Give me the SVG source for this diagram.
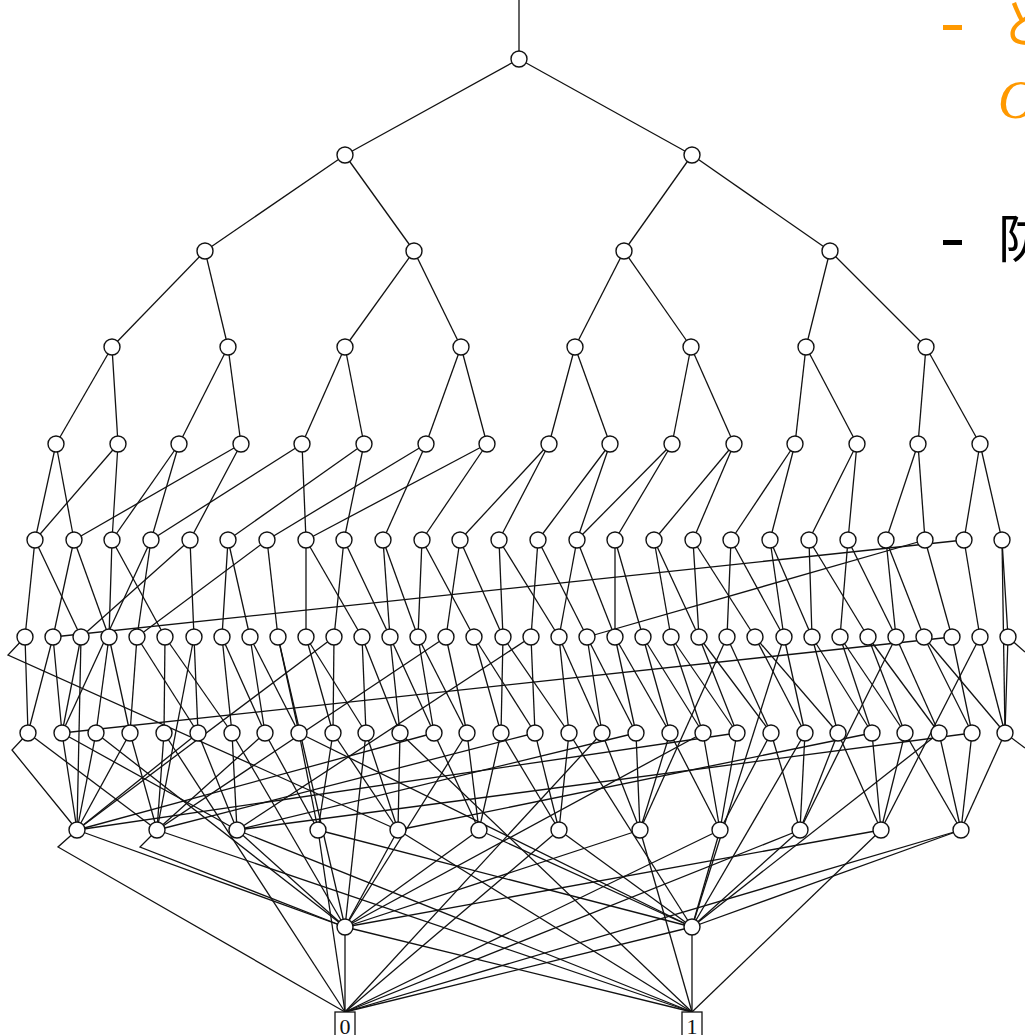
<svg xmlns="http://www.w3.org/2000/svg" width="1025" height="1035" viewBox="0 0 1025 1035">
<style>
.e path{fill:none;stroke:#111;stroke-width:1.3}
.n circle{fill:#fff;stroke:#111;stroke-width:1.4}
.t rect{fill:#fff;stroke:#111;stroke-width:1.3}
.t text{font-family:"Liberation Serif",serif;font-size:22px;text-anchor:middle;fill:#111}
.o{fill:#f90;font-family:"Noto Sans CJK JP","Noto Sans",sans-serif;font-size:52px}
.k{fill:#000;font-family:"Noto Sans CJK JP","Noto Sans",sans-serif;font-size:52px}
</style>
<rect width="1025" height="1035" fill="#fff"/>
<g id="text">
<rect x="943" y="25" width="19" height="5" fill="#f90"/>
<text class="o" x="1000" y="43">と</text>
<text x="998" y="118" fill="#f90" font-family="Liberation Serif,serif" font-style="italic" font-size="54">O</text>
<rect x="943" y="240" width="19" height="5" fill="#000"/>
<text class="k" x="998" y="258">防</text>
</g>
<g class="e" id="connectors">
<path d="M519 0L519 59"/>
<path d="M519 59L345 155"/><path d="M519 59L692 155"/>
<path d="M345 155L205 251"/><path d="M345 155L414 251"/><path d="M692 155L624 251"/><path d="M692 155L830 251"/>
<path d="M205 251L112 347"/><path d="M205 251L228 347"/><path d="M414 251L345 347"/><path d="M414 251L461 347"/>
<path d="M624 251L575 347"/><path d="M624 251L691 347"/><path d="M830 251L806 347"/><path d="M830 251L926 347"/>
<path d="M112 347L56 444"/><path d="M112 347L118 444"/><path d="M228 347L179 444"/><path d="M228 347L241 444"/>
<path d="M345 347L302 444"/><path d="M345 347L364 444"/><path d="M461 347L426 444"/><path d="M461 347L487 444"/>
<path d="M575 347L549 444"/><path d="M575 347L610 444"/><path d="M691 347L672 444"/><path d="M691 347L734 444"/>
<path d="M806 347L795 444"/><path d="M806 347L857 444"/><path d="M926 347L918 444"/><path d="M926 347L980 444"/>
<path d="M56 444L74 540"/><path d="M56 444L35 540"/><path d="M118 444L35 540"/><path d="M118 444L112 540"/>
<path d="M179 444L112 540"/><path d="M179 444L151 540"/><path d="M241 444L74 540"/><path d="M241 444L190 540"/>
<path d="M302 444L151 540"/><path d="M302 444L306 540"/><path d="M364 444L228 540"/><path d="M364 444L344 540"/>
<path d="M426 444L267 540"/><path d="M426 444L383 540"/><path d="M487 444L306 540"/><path d="M487 444L422 540"/>
<path d="M549 444L460 540"/><path d="M549 444L499 540"/><path d="M610 444L538 540"/><path d="M610 444L577 540"/>
<path d="M672 444L577 540"/><path d="M672 444L615 540"/><path d="M734 444L654 540"/><path d="M734 444L693 540"/>
<path d="M795 444L731 540"/><path d="M795 444L770 540"/><path d="M857 444L809 540"/><path d="M857 444L848 540"/>
<path d="M918 444L886 540"/><path d="M918 444L925 540"/><path d="M980 444L964 540"/><path d="M980 444L1002 540"/>
<path d="M35 540L25 637"/><path d="M35 540L81 637"/><path d="M74 540L53 637"/><path d="M74 540L109 637"/>
<path d="M112 540L109 637"/><path d="M112 540L165 637"/><path d="M151 540L137 637"/><path d="M151 540L62 733"/>
<path d="M190 540L194 637"/><path d="M190 540L81 637"/><path d="M228 540L222 637"/><path d="M228 540L250 637"/>
<path d="M267 540L278 637"/><path d="M267 540L137 637"/><path d="M306 540L306 637"/><path d="M306 540L362 637"/>
<path d="M344 540L334 637"/><path d="M344 540L390 637"/><path d="M383 540L390 637"/><path d="M383 540L418 637"/>
<path d="M422 540L418 637"/><path d="M422 540L474 637"/><path d="M460 540L446 637"/><path d="M460 540L503 637"/>
<path d="M499 540L503 637"/><path d="M499 540L559 637"/><path d="M538 540L531 637"/><path d="M538 540L587 637"/>
<path d="M577 540L559 637"/><path d="M577 540L615 637"/><path d="M615 540L615 637"/><path d="M615 540L643 637"/>
<path d="M654 540L671 637"/><path d="M654 540L699 637"/><path d="M693 540L699 637"/><path d="M693 540L755 637"/>
<path d="M731 540L727 637"/><path d="M731 540L784 637"/><path d="M770 540L784 637"/><path d="M770 540L812 637"/>
<path d="M809 540L812 637"/><path d="M809 540L868 637"/><path d="M848 540L840 637"/><path d="M848 540L896 637"/>
<path d="M886 540L896 637"/><path d="M886 540L924 637"/><path d="M925 540L952 637"/><path d="M925 540L587 637"/>
<path d="M964 540L980 637"/><path d="M964 540L53 637"/><path d="M1002 540L1008 637"/><path d="M1002 540L1005 733"/>
<path d="M25 637L8 655L398 830"/><path d="M25 637L28 733"/><path d="M53 637L28 733"/><path d="M53 637L62 733"/>
<path d="M81 637L62 733"/><path d="M81 637L77 830"/><path d="M109 637L96 733"/><path d="M109 637L130 733"/>
<path d="M137 637L130 733"/><path d="M137 637L198 733"/><path d="M165 637L164 733"/><path d="M165 637L232 733"/>
<path d="M194 637L198 733"/><path d="M194 637L157 830"/><path d="M222 637L232 733"/><path d="M222 637L265 733"/>
<path d="M250 637L265 733"/><path d="M250 637L299 733"/><path d="M278 637L299 733"/><path d="M278 637L345 927"/>
<path d="M306 637L333 733"/><path d="M306 637L366 733"/><path d="M334 637L333 733"/><path d="M334 637L77 830"/>
<path d="M362 637L366 733"/><path d="M362 637L400 733"/><path d="M390 637L400 733"/><path d="M390 637L434 733"/>
<path d="M418 637L434 733"/><path d="M418 637L467 733"/><path d="M446 637L467 733"/><path d="M446 637L157 830"/>
<path d="M474 637L501 733"/><path d="M474 637L535 733"/><path d="M503 637L501 733"/><path d="M503 637L569 733"/>
<path d="M531 637L535 733"/><path d="M531 637L237 830"/><path d="M559 637L569 733"/><path d="M559 637L602 733"/>
<path d="M587 637L602 733"/><path d="M587 637L636 733"/><path d="M615 637L636 733"/><path d="M615 637L670 733"/>
<path d="M643 637L670 733"/><path d="M643 637L703 733"/><path d="M671 637L703 733"/><path d="M671 637L737 733"/>
<path d="M699 637L737 733"/><path d="M699 637L771 733"/><path d="M727 637L771 733"/><path d="M727 637L640 830"/>
<path d="M755 637L805 733"/><path d="M755 637L838 733"/><path d="M784 637L805 733"/><path d="M784 637L692 927"/>
<path d="M812 637L838 733"/><path d="M812 637L872 733"/><path d="M840 637L872 733"/><path d="M840 637L905 733"/>
<path d="M868 637L905 733"/><path d="M868 637L939 733"/><path d="M896 637L939 733"/><path d="M896 637L800 830"/>
<path d="M924 637L972 733"/><path d="M924 637L1005 733"/><path d="M952 637L972 733"/><path d="M952 637L62 733"/>
<path d="M980 637L1005 733"/><path d="M980 637L881 830"/><path d="M1008 637L1005 733"/><path d="M1008 637L1025 652"/>
<path d="M28 733L12 750L77 830"/><path d="M28 733L157 830"/><path d="M62 733L77 830"/><path d="M62 733L237 830"/>
<path d="M96 733L77 830"/><path d="M96 733L345 927"/><path d="M130 733L157 830"/><path d="M130 733L77 830"/>
<path d="M164 733L157 830"/><path d="M164 733L345 1012"/><path d="M198 733L237 830"/><path d="M198 733L77 830"/>
<path d="M232 733L237 830"/><path d="M232 733L345 927"/><path d="M265 733L318 830"/><path d="M265 733L157 830"/>
<path d="M299 733L318 830"/><path d="M299 733L692 927"/><path d="M333 733L318 830"/><path d="M333 733L398 830"/>
<path d="M366 733L398 830"/><path d="M366 733L345 927"/><path d="M400 733L398 830"/><path d="M400 733L692 1012"/>
<path d="M434 733L479 830"/><path d="M434 733L77 830"/><path d="M467 733L479 830"/><path d="M467 733L345 927"/>
<path d="M501 733L479 830"/><path d="M501 733L559 830"/><path d="M535 733L559 830"/><path d="M535 733L157 830"/>
<path d="M569 733L559 830"/><path d="M569 733L692 927"/><path d="M602 733L640 830"/><path d="M602 733L345 1012"/>
<path d="M636 733L640 830"/><path d="M636 733L237 830"/><path d="M670 733L640 830"/><path d="M670 733L720 830"/>
<path d="M703 733L720 830"/><path d="M703 733L345 927"/><path d="M737 733L720 830"/><path d="M737 733L77 830"/>
<path d="M771 733L800 830"/><path d="M771 733L720 830"/><path d="M805 733L800 830"/><path d="M805 733L692 927"/>
<path d="M838 733L800 830"/><path d="M838 733L881 830"/><path d="M872 733L881 830"/><path d="M872 733L398 830"/>
<path d="M905 733L881 830"/><path d="M905 733L961 830"/><path d="M939 733L961 830"/><path d="M939 733L692 927"/>
<path d="M972 733L961 830"/><path d="M972 733L237 830"/><path d="M1005 733L961 830"/><path d="M1005 733L1025 748"/>
<path d="M77 830L58 847L345 1012"/><path d="M77 830L345 927"/><path d="M157 830L140 847L345 927"/><path d="M157 830L692 1012"/>
<path d="M237 830L345 927"/><path d="M237 830L692 1012"/><path d="M318 830L692 927"/><path d="M318 830L345 1012"/>
<path d="M398 830L345 927"/><path d="M398 830L692 1012"/><path d="M479 830L345 927"/><path d="M479 830L692 927"/>
<path d="M559 830L345 1012"/><path d="M559 830L692 927"/><path d="M640 830L345 927"/><path d="M640 830L692 1012"/>
<path d="M720 830L692 927"/><path d="M720 830L345 1012"/><path d="M800 830L692 927"/><path d="M800 830L345 1012"/>
<path d="M881 830L345 927"/><path d="M881 830L692 1012"/><path d="M961 830L692 927"/><path d="M961 830L345 1012"/>
<path d="M345 927L345 1012"/><path d="M345 927L692 1012"/><path d="M692 927L692 1012"/><path d="M692 927L345 1012"/>
</g>
<g class="n" id="nodes">
<g id="r0_0"><circle cx="519" cy="59" r="8"/></g>
<g id="r1_0"><circle cx="345" cy="155" r="8"/></g><g id="r1_1"><circle cx="692" cy="155" r="8"/></g>
<g id="r2_0"><circle cx="205" cy="251" r="8"/></g><g id="r2_1"><circle cx="414" cy="251" r="8"/></g><g id="r2_2"><circle cx="624" cy="251" r="8"/></g><g id="r2_3"><circle cx="830" cy="251" r="8"/></g>
<g id="r3_0"><circle cx="112" cy="347" r="8"/></g><g id="r3_1"><circle cx="228" cy="347" r="8"/></g><g id="r3_2"><circle cx="345" cy="347" r="8"/></g><g id="r3_3"><circle cx="461" cy="347" r="8"/></g>
<g id="r3_4"><circle cx="575" cy="347" r="8"/></g><g id="r3_5"><circle cx="691" cy="347" r="8"/></g><g id="r3_6"><circle cx="806" cy="347" r="8"/></g><g id="r3_7"><circle cx="926" cy="347" r="8"/></g>
<g id="r4_0"><circle cx="56" cy="444" r="8"/></g><g id="r4_1"><circle cx="118" cy="444" r="8"/></g><g id="r4_2"><circle cx="179" cy="444" r="8"/></g><g id="r4_3"><circle cx="241" cy="444" r="8"/></g>
<g id="r4_4"><circle cx="302" cy="444" r="8"/></g><g id="r4_5"><circle cx="364" cy="444" r="8"/></g><g id="r4_6"><circle cx="426" cy="444" r="8"/></g><g id="r4_7"><circle cx="487" cy="444" r="8"/></g>
<g id="r4_8"><circle cx="549" cy="444" r="8"/></g><g id="r4_9"><circle cx="610" cy="444" r="8"/></g><g id="r4_10"><circle cx="672" cy="444" r="8"/></g><g id="r4_11"><circle cx="734" cy="444" r="8"/></g>
<g id="r4_12"><circle cx="795" cy="444" r="8"/></g><g id="r4_13"><circle cx="857" cy="444" r="8"/></g><g id="r4_14"><circle cx="918" cy="444" r="8"/></g><g id="r4_15"><circle cx="980" cy="444" r="8"/></g>
<g id="r5_0"><circle cx="35" cy="540" r="8"/></g><g id="r5_1"><circle cx="74" cy="540" r="8"/></g><g id="r5_2"><circle cx="112" cy="540" r="8"/></g><g id="r5_3"><circle cx="151" cy="540" r="8"/></g>
<g id="r5_4"><circle cx="190" cy="540" r="8"/></g><g id="r5_5"><circle cx="228" cy="540" r="8"/></g><g id="r5_6"><circle cx="267" cy="540" r="8"/></g><g id="r5_7"><circle cx="306" cy="540" r="8"/></g>
<g id="r5_8"><circle cx="344" cy="540" r="8"/></g><g id="r5_9"><circle cx="383" cy="540" r="8"/></g><g id="r5_10"><circle cx="422" cy="540" r="8"/></g><g id="r5_11"><circle cx="460" cy="540" r="8"/></g>
<g id="r5_12"><circle cx="499" cy="540" r="8"/></g><g id="r5_13"><circle cx="538" cy="540" r="8"/></g><g id="r5_14"><circle cx="577" cy="540" r="8"/></g><g id="r5_15"><circle cx="615" cy="540" r="8"/></g>
<g id="r5_16"><circle cx="654" cy="540" r="8"/></g><g id="r5_17"><circle cx="693" cy="540" r="8"/></g><g id="r5_18"><circle cx="731" cy="540" r="8"/></g><g id="r5_19"><circle cx="770" cy="540" r="8"/></g>
<g id="r5_20"><circle cx="809" cy="540" r="8"/></g><g id="r5_21"><circle cx="848" cy="540" r="8"/></g><g id="r5_22"><circle cx="886" cy="540" r="8"/></g><g id="r5_23"><circle cx="925" cy="540" r="8"/></g>
<g id="r5_24"><circle cx="964" cy="540" r="8"/></g><g id="r5_25"><circle cx="1002" cy="540" r="8"/></g>
<g id="r6_0"><circle cx="25" cy="637" r="8"/></g><g id="r6_1"><circle cx="53" cy="637" r="8"/></g><g id="r6_2"><circle cx="81" cy="637" r="8"/></g><g id="r6_3"><circle cx="109" cy="637" r="8"/></g>
<g id="r6_4"><circle cx="137" cy="637" r="8"/></g><g id="r6_5"><circle cx="165" cy="637" r="8"/></g><g id="r6_6"><circle cx="194" cy="637" r="8"/></g><g id="r6_7"><circle cx="222" cy="637" r="8"/></g>
<g id="r6_8"><circle cx="250" cy="637" r="8"/></g><g id="r6_9"><circle cx="278" cy="637" r="8"/></g><g id="r6_10"><circle cx="306" cy="637" r="8"/></g><g id="r6_11"><circle cx="334" cy="637" r="8"/></g>
<g id="r6_12"><circle cx="362" cy="637" r="8"/></g><g id="r6_13"><circle cx="390" cy="637" r="8"/></g><g id="r6_14"><circle cx="418" cy="637" r="8"/></g><g id="r6_15"><circle cx="446" cy="637" r="8"/></g>
<g id="r6_16"><circle cx="474" cy="637" r="8"/></g><g id="r6_17"><circle cx="503" cy="637" r="8"/></g><g id="r6_18"><circle cx="531" cy="637" r="8"/></g><g id="r6_19"><circle cx="559" cy="637" r="8"/></g>
<g id="r6_20"><circle cx="587" cy="637" r="8"/></g><g id="r6_21"><circle cx="615" cy="637" r="8"/></g><g id="r6_22"><circle cx="643" cy="637" r="8"/></g><g id="r6_23"><circle cx="671" cy="637" r="8"/></g>
<g id="r6_24"><circle cx="699" cy="637" r="8"/></g><g id="r6_25"><circle cx="727" cy="637" r="8"/></g><g id="r6_26"><circle cx="755" cy="637" r="8"/></g><g id="r6_27"><circle cx="784" cy="637" r="8"/></g>
<g id="r6_28"><circle cx="812" cy="637" r="8"/></g><g id="r6_29"><circle cx="840" cy="637" r="8"/></g><g id="r6_30"><circle cx="868" cy="637" r="8"/></g><g id="r6_31"><circle cx="896" cy="637" r="8"/></g>
<g id="r6_32"><circle cx="924" cy="637" r="8"/></g><g id="r6_33"><circle cx="952" cy="637" r="8"/></g><g id="r6_34"><circle cx="980" cy="637" r="8"/></g><g id="r6_35"><circle cx="1008" cy="637" r="8"/></g>
<g id="r7_0"><circle cx="28" cy="733" r="8"/></g><g id="r7_1"><circle cx="62" cy="733" r="8"/></g><g id="r7_2"><circle cx="96" cy="733" r="8"/></g><g id="r7_3"><circle cx="130" cy="733" r="8"/></g>
<g id="r7_4"><circle cx="164" cy="733" r="8"/></g><g id="r7_5"><circle cx="198" cy="733" r="8"/></g><g id="r7_6"><circle cx="232" cy="733" r="8"/></g><g id="r7_7"><circle cx="265" cy="733" r="8"/></g>
<g id="r7_8"><circle cx="299" cy="733" r="8"/></g><g id="r7_9"><circle cx="333" cy="733" r="8"/></g><g id="r7_10"><circle cx="366" cy="733" r="8"/></g><g id="r7_11"><circle cx="400" cy="733" r="8"/></g>
<g id="r7_12"><circle cx="434" cy="733" r="8"/></g><g id="r7_13"><circle cx="467" cy="733" r="8"/></g><g id="r7_14"><circle cx="501" cy="733" r="8"/></g><g id="r7_15"><circle cx="535" cy="733" r="8"/></g>
<g id="r7_16"><circle cx="569" cy="733" r="8"/></g><g id="r7_17"><circle cx="602" cy="733" r="8"/></g><g id="r7_18"><circle cx="636" cy="733" r="8"/></g><g id="r7_19"><circle cx="670" cy="733" r="8"/></g>
<g id="r7_20"><circle cx="703" cy="733" r="8"/></g><g id="r7_21"><circle cx="737" cy="733" r="8"/></g><g id="r7_22"><circle cx="771" cy="733" r="8"/></g><g id="r7_23"><circle cx="805" cy="733" r="8"/></g>
<g id="r7_24"><circle cx="838" cy="733" r="8"/></g><g id="r7_25"><circle cx="872" cy="733" r="8"/></g><g id="r7_26"><circle cx="905" cy="733" r="8"/></g><g id="r7_27"><circle cx="939" cy="733" r="8"/></g>
<g id="r7_28"><circle cx="972" cy="733" r="8"/></g><g id="r7_29"><circle cx="1005" cy="733" r="8"/></g>
<g id="r8_0"><circle cx="77" cy="830" r="8"/></g><g id="r8_1"><circle cx="157" cy="830" r="8"/></g><g id="r8_2"><circle cx="237" cy="830" r="8"/></g><g id="r8_3"><circle cx="318" cy="830" r="8"/></g>
<g id="r8_4"><circle cx="398" cy="830" r="8"/></g><g id="r8_5"><circle cx="479" cy="830" r="8"/></g><g id="r8_6"><circle cx="559" cy="830" r="8"/></g><g id="r8_7"><circle cx="640" cy="830" r="8"/></g>
<g id="r8_8"><circle cx="720" cy="830" r="8"/></g><g id="r8_9"><circle cx="800" cy="830" r="8"/></g><g id="r8_10"><circle cx="881" cy="830" r="8"/></g><g id="r8_11"><circle cx="961" cy="830" r="8"/></g>
<g id="r9_0"><circle cx="345" cy="927" r="8"/></g><g id="r9_1"><circle cx="692" cy="927" r="8"/></g>
</g>
<g class="t" id="terminals">
<g id="term0"><rect x="335" y="1012" width="20" height="32"/><text x="345" y="1034">0</text></g>
<g id="term1"><rect x="682" y="1012" width="20" height="32"/><text x="692" y="1034">1</text></g>
</g>
</svg>
